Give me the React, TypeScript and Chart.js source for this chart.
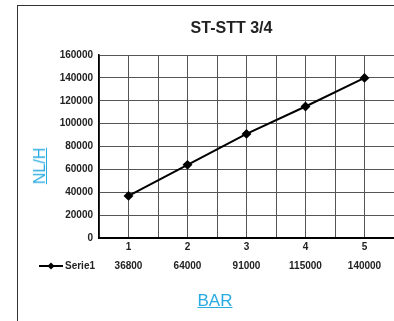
import React, { useEffect, useRef } from "react";
import { Chart, registerables } from "chart.js";

Chart.register(...registerables);

const chartTitle = "ST-STT 3/4";
const categories = ["1", "2", "3", "4", "5"];
const seriesName = "Serie1";
const seriesValues = [36800, 64000, 91000, 115000, 140000];
const yMin = 0;
const yMax = 160000;
const yStep = 20000;
const yAxisLabel = "NL/H";
const xAxisLabel = "BAR";

const FONT = '"Liberation Sans", Arial, sans-serif';

const titleAndTablePlugin = {
  id: "titleAndTable",
  afterDraw(chart: any) {
    const ctx = chart.ctx;
    const xs = chart.scales.x;
    ctx.save();
    // title
    ctx.font = `bold 16px ${FONT}`;
    ctx.fillStyle = "#222";
    ctx.textAlign = "center";
    ctx.textBaseline = "middle";
    ctx.fillText(chartTitle, chart.width / 2, 23);
    // data table row
    const y0 = chart.chartArea.bottom + 28;
    ctx.font = `bold 10px ${FONT}`;
    seriesValues.forEach((v, i) => {
      ctx.fillText(String(v), xs.getPixelForValue(i + 1), y0);
    });
    // legend key
    ctx.strokeStyle = "#000";
    ctx.lineWidth = 2;
    ctx.beginPath();
    ctx.moveTo(21, y0);
    ctx.lineTo(45, y0);
    ctx.stroke();
    ctx.fillStyle = "#000";
    ctx.beginPath();
    ctx.moveTo(33, y0 - 3.5);
    ctx.lineTo(36.5, y0);
    ctx.lineTo(33, y0 + 3.5);
    ctx.lineTo(29.5, y0);
    ctx.closePath();
    ctx.fill();
    ctx.fillStyle = "#222";
    ctx.textAlign = "left";
    ctx.fillText(seriesName, 47, y0);
    ctx.restore();
  },
};

export default function App() {
  const ref = useRef<HTMLCanvasElement | null>(null);

  useEffect(() => {
    if (!ref.current) return;
    const chart = new Chart(ref.current, {
      type: "line",
      data: {
        datasets: [
          {
            label: seriesName,
            data: seriesValues.map((v, i) => ({ x: i + 1, y: v })),
            borderColor: "#000",
            backgroundColor: "#000",
            borderWidth: 2,
            pointStyle: "rectRot",
            pointRadius: 3.5,
            pointBackgroundColor: "#000",
            pointBorderColor: "#000",
            tension: 0,
          },
        ],
      },
      options: {
        responsive: false,
        animation: false,
        layout: { padding: { left: 0, right: 51, top: 49, bottom: 43 } },
        plugins: {
          legend: { display: false },
          tooltip: { enabled: false },
          title: { display: false },
        },
        scales: {
          x: {
            type: "linear",
            min: 0.5,
            max: categories.length + 0.5,
            afterFit: (s: any) => {
              s.height = 40;
            },
            ticks: {
              stepSize: 0.5,
              autoSkip: false,
              maxRotation: 0,
              padding: 3,
              color: "#222",
              font: { family: FONT, size: 10, weight: "bold" },
              callback: (v: any) =>
                Number.isInteger(v) ? categories[v - 1] ?? "" : "",
            },
            grid: { color: "#555", lineWidth: 1, drawTicks: false },
            border: { color: "#000", width: 2 },
          },
          y: {
            min: yMin,
            max: yMax,
            afterFit: (s: any) => {
              s.width = 81;
            },
            ticks: {
              stepSize: yStep,
              padding: 6,
              color: "#222",
              font: { family: FONT, size: 10, weight: "bold" },
              callback: (v: any) => String(v),
            },
            grid: { color: "#555", lineWidth: 1, drawTicks: false },
            border: { color: "#000", width: 1.5 },
          },
        },
      },
      plugins: [titleAndTablePlugin],
    });
    return () => chart.destroy();
  }, []);

  const linkStyle: React.CSSProperties = {
    position: "absolute",
    color: "#29abe2",
    textDecoration: "underline",
    fontFamily: FONT,
    whiteSpace: "nowrap",
  };

  return (
    <div
      style={{
        position: "fixed",
        left: 0,
        top: 0,
        width: 394,
        height: 321,
        overflow: "hidden",
        background: "#fff",
      }}
    >
      <div
        style={{
          position: "absolute",
          left: 17,
          top: 5,
          width: 440,
          height: 330,
          borderLeft: "1px solid #333",
          borderTop: "1px solid #333",
        }}
      >
        <canvas ref={ref} width={427} height={315} style={{ display: "block" }} />
      </div>
      <span
        style={{
          ...linkStyle,
          fontSize: 16,
          left: 40,
          top: 166,
          transform: "translate(-50%, -50%) rotate(-90deg)",
        }}
      >
        {yAxisLabel}
      </span>
      <span
        style={{
          ...linkStyle,
          fontSize: 17,
          left: 215,
          top: 301,
          transform: "translate(-50%, -50%)",
        }}
      >
        {xAxisLabel}
      </span>
    </div>
  );
}
